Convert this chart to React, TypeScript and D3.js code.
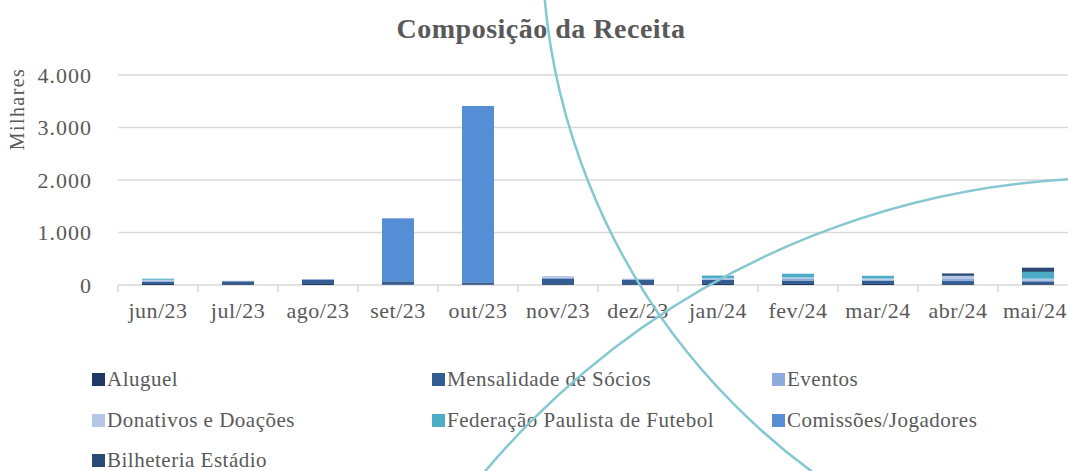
import React from 'react';
import { scaleBand, scaleLinear, stack, formatLocale } from 'd3';

const months = ['jun/23', 'jul/23', 'ago/23', 'set/23', 'out/23', 'nov/23', 'dez/23', 'jan/24', 'fev/24', 'mar/24', 'abr/24', 'mai/24'];

// valores em milhares
const aluguel = [20, 15, 20, 10, 10, 15, 15, 20, 20, 20, 15, 15];
const mensalidade = [40, 55, 80, 60, 40, 110, 90, 75, 65, 60, 60, 55];
const eventos = [25, 10, 15, 0, 0, 20, 0, 15, 30, 20, 40, 20];
const donativos = [15, 0, 0, 0, 0, 25, 15, 20, 30, 25, 60, 30];
const federacao = [20, 0, 0, 0, 0, 0, 0, 50, 70, 50, 0, 130];
const comissoes = [0, 0, 0, 1200, 3360, 0, 0, 0, 0, 0, 0, 0];
const bilheteria = [0, 0, 0, 0, 0, 0, 0, 0, 0, 0, 45, 80];

const seriesNames = ['Aluguel', 'Mensalidade de Sócios', 'Eventos', 'Donativos e Doações', 'Federação Paulista de Futebol', 'Comissões/Jogadores', 'Bilheteria Estádio'];
const seriesValues = [aluguel, mensalidade, eventos, donativos, federacao, comissoes, bilheteria];
const colors = ['#203864', '#335C91', '#8FAADC', '#B4C7E7', '#4BACC6', '#558ED5', '#2A4A76'];

const yTicks = [0, 1000, 2000, 3000, 4000];

const W = 1068;
const H = 471;
const font = '"Liberation Serif", "Times New Roman", serif';
const textColor = '#595959';

const fmt = formatLocale({ decimal: ',', thousands: '.', grouping: [3], currency: ['', ''] }).format(',');

const App: React.FC = () => {
  const x = scaleBand()
    .domain(months)
    .range([118, 1078])
    .paddingInner(0.6)
    .paddingOuter(0.3);

  const y = scaleLinear().domain([0, 4000]).range([285, 75]);

  const table = months.map((m, i) => {
    const row: Record<string, any> = { month: m };
    seriesNames.forEach((s, k) => { row[s] = seriesValues[k][i]; });
    return row;
  });
  const stacked = stack<any>().keys(seriesNames)(table);

  const step = x.step();
  const bw = x.bandwidth();
  const boundaries = [x(months[0])! - step * 0.3, ...months.map(m => x(m)! + bw + step * 0.3)];

  // posições da legenda
  const legendCols = [92, 432, 772];
  const legendRows = [379, 420, 460];

  return (
    <div style={{ position: 'absolute', left: 0, top: 0 }}>
      <svg width={W} height={H} style={{ display: 'block', background: '#fff' }}>
        <text x={541} y={38} textAnchor="middle" fontFamily={font} fontWeight="bold" fontSize={28} letterSpacing={0.5} fill={textColor}>
          Composição da Receita
        </text>

        {yTicks.map(t => (
          <g key={t}>
            <line x1={118} x2={1068} y1={y(t)} y2={y(t)} stroke="#d9d9d9" strokeWidth={1.5} />
            <text x={92} y={y(t)} dy="0.35em" textAnchor="end" fontFamily={font} fontSize={22} letterSpacing={1} fill={textColor}>
              {fmt(t)}
            </text>
          </g>
        ))}

        {boundaries.map((b, i) => (
          <line key={i} x1={b} x2={b} y1={285} y2={292} stroke="#d9d9d9" strokeWidth={1.5} />
        ))}

        <text transform="translate(24,109) rotate(-90)" textAnchor="middle" fontFamily={font} fontSize={20} letterSpacing={1.4} fill={textColor}>
          Milhares
        </text>

        {stacked.map((layer, k) => (
          <g key={layer.key} fill={colors[k]}>
            {layer.map((d, i) => (
              d[1] - d[0] > 0 ? (
                <rect key={i} x={x(months[i])} y={y(d[1])} width={bw} height={y(d[0]) - y(d[1])} />
              ) : null
            ))}
          </g>
        ))}

        {months.map(m => {
          const cx = x(m)! + bw / 2;
          // o último rótulo encosta na borda direita
          const atEdge = cx + 32 > W;
          return (
            <text key={m} x={atEdge ? W - 1 : cx} y={318} textAnchor={atEdge ? 'end' : 'middle'} fontFamily={font} fontSize={22} letterSpacing={0.5} fill={textColor}>
              {m}
            </text>
          );
        })}

        {seriesNames.map((s, k) => {
          const cx = legendCols[k % 3];
          const cy = legendRows[Math.floor(k / 3)];
          return (
            <g key={s}>
              <rect x={cx} y={cy - 6} width={13} height={13} fill={colors[k]} />
              <text x={cx + 15} y={cy} dy="0.35em" fontFamily={font} fontSize={21} letterSpacing={0.5} fill={textColor}>
                {s}
              </text>
            </g>
          );
        })}

        {/* arcos decorativos do fundo do slide */}
        <circle cx={1202} cy={-61} r={660} fill="none" stroke="#86C8D1" strokeWidth={2.5} />
        <circle cx={1116} cy={1003} r={825} fill="none" stroke="#86C8D1" strokeWidth={2.5} />
      </svg>
    </div>
  );
};

export default App;
